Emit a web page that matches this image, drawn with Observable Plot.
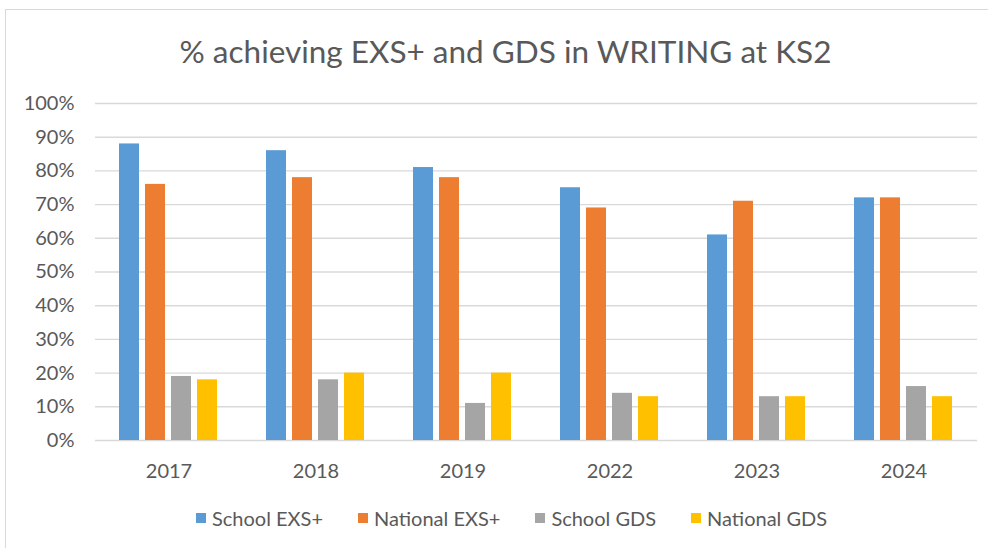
<!DOCTYPE html>
<html>
<head>
<meta charset="utf-8">
<script src="https://cdn.jsdelivr.net/npm/d3@7"></script>
<script src="https://cdn.jsdelivr.net/npm/@observablehq/plot@0.6"></script>
<style>
  html, body { margin: 0; padding: 0; background: #fff; }
  #wrap { position: relative; width: 988px; height: 548px; overflow: hidden; font-family: Lato, "Open Sans", sans-serif; color: #595959; }
  #frame { position: absolute; left: 5px; top: 9px; width: 1200px; height: 800px; border-left: 1.5px solid #D9D9D9; border-top: 1.5px solid #D9D9D9; box-sizing: border-box; }
  #title { position: relative; height: 88px; box-sizing: border-box; padding-left: 23px; padding-top: 33px; text-align: center; font-size: 31.5px; line-height: 36px; white-space: nowrap; }
  #chart { position: relative; height: 402px; }
  #legend { position: relative; height: 58px; display: flex; align-items: center; padding-left: 196px; padding-bottom: 3px; box-sizing: border-box; font-size: 20px; }
  .item { display: flex; align-items: center; margin-right: 35px; }
  .sw { width: 10px; height: 10px; margin-right: 6px; }
</style>
</head>
<body>
<div id="wrap">
  <div id="frame"></div>
  <div id="title">% achieving EXS+ and GDS in WRITING at KS2</div>
  <div id="chart"></div>
  <div id="legend"></div>
</div>
<script>
const years = ["2017", "2018", "2019", "2022", "2023", "2024"];
const seriesNames = ["School EXS+", "National EXS+", "School GDS", "National GDS"];
const seriesColors = ["#5B9BD5", "#ED7D31", "#A5A5A5", "#FFC000"];
const schoolEXS = [88, 86, 81, 75, 61, 72];
const nationalEXS = [76, 78, 78, 69, 71, 72];
const schoolGDS = [19, 18, 11, 14, 13, 16];
const nationalGDS = [18, 20, 20, 13, 13, 13];
const yTicks = [0, 0.1, 0.2, 0.3, 0.4, 0.5, 0.6, 0.7, 0.8, 0.9, 1.0];

const seriesValues = [schoolEXS, nationalEXS, schoolGDS, nationalGDS];
const table = [];
years.forEach((yr, i) => {
  seriesNames.forEach((s, j) => {
    table.push({year: yr, series: s, value: seriesValues[j][i] / 100});
  });
});

const chart = Plot.plot({
  width: 988,
  height: 402,
  marginTop: 15,
  marginBottom: 50,
  marginLeft: 93,
  marginRight: 10,
  style: {fontFamily: "Lato, 'Open Sans', sans-serif", fontSize: "20px", color: "#595959", background: "transparent"},
  fx: {domain: years, padding: 0, label: null, axis: "bottom", tickSize: 0, tickPadding: 23},
  x: {domain: seriesNames, paddingInner: 0.22, paddingOuter: 0.88, axis: null},
  y: {domain: [0, 1], ticks: yTicks, tickFormat: d3.format(".0%"), label: null, tickSize: 0, tickPadding: 21},
  color: {domain: seriesNames, range: seriesColors},
  marks: [
    Plot.gridY(yTicks, {stroke: "#D9D9D9", strokeOpacity: 1, strokeWidth: 1.4}),
    Plot.barY(table, {fx: "year", x: "series", y: "value", fill: "series"}),
    Plot.axisY(yTicks, {tickSize: 0, tickPadding: 21, tickFormat: d3.format(".0%"), fill: "#595959", fontSize: 20})
  ]
});
document.getElementById("chart").appendChild(chart);

const legend = document.getElementById("legend");
seriesNames.forEach((s, j) => {
  const it = document.createElement("div");
  it.className = "item";
  const sw = document.createElement("div");
  sw.className = "sw";
  sw.style.background = seriesColors[j];
  const tx = document.createElement("span");
  tx.textContent = s;
  it.appendChild(sw);
  it.appendChild(tx);
  legend.appendChild(it);
});
</script>
</body>
</html>
